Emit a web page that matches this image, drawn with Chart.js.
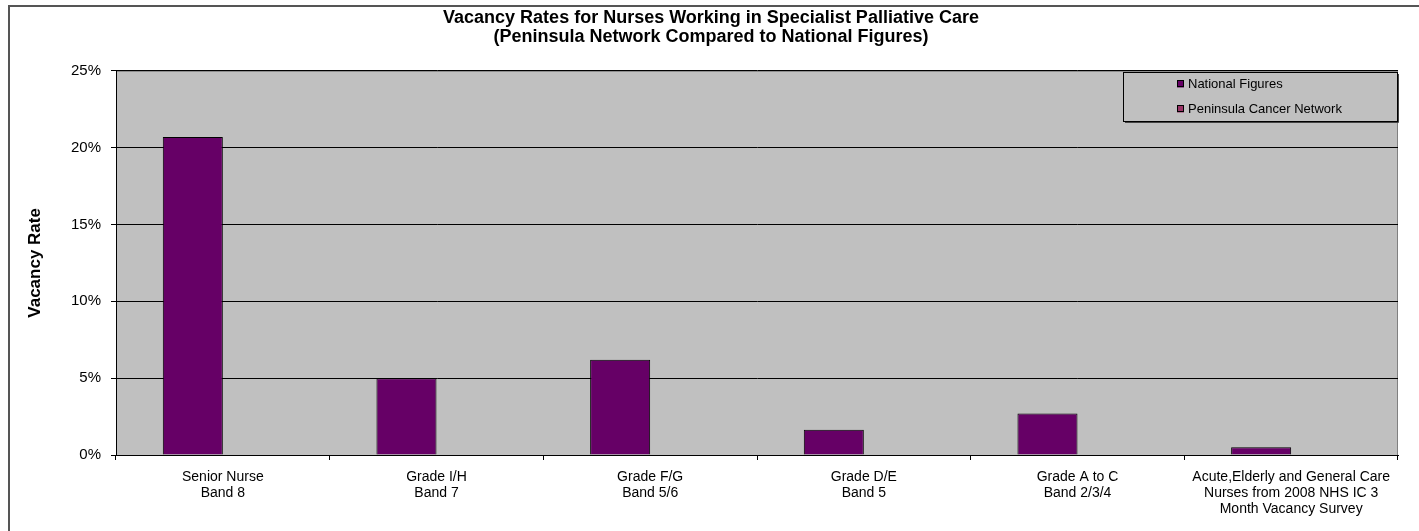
<!DOCTYPE html>
<html>
<head>
<meta charset="utf-8">
<script src="https://cdn.jsdelivr.net/npm/chart.js@4"></script>
<style>
html,body{margin:0;padding:0;background:#fff;}
#wrap{width:1419px;height:531px;position:relative;}
</style>
</head>
<body>
<div id="wrap"><canvas id="c"></canvas></div>
<script>
const categories = [
  ["Senior Nurse","Band 8"],
  ["Grade I/H","Band 7"],
  ["Grade F/G","Band 5/6"],
  ["Grade D/E","Band 5"],
  ["Grade A to C","Band 2/3/4"],
  ["Acute,Elderly and General Care","Nurses from 2008 NHS IC 3","Month Vacancy Survey"]
];
const nationalFigures = [20.7, 5.0, 6.2, 1.65, 2.7, 0.5];
const peninsulaNetwork = [null, null, null, null, null, null];
const yTicks = [0, 5, 10, 15, 20, 25];
const titleLines = ["Vacancy Rates for Nurses Working in Specialist Palliative Care","(Peninsula Network Compared to National Figures)"];

const FONT = "'Liberation Sans', Arial, sans-serif";

const bgPlugin = {
  id: 'bg',
  beforeDraw(chart) {
    const ctx = chart.ctx, a = chart.chartArea;
    ctx.save();
    ctx.fillStyle = '#fff';
    ctx.fillRect(0, 0, chart.width, chart.height);
    ctx.strokeStyle = '#555';
    ctx.lineWidth = 2;
    ctx.strokeRect(9, 6, chart.width + 20, chart.height + 20);
    ctx.fillStyle = '#C0C0C0';
    ctx.fillRect(a.left, a.top, a.right - a.left, a.bottom - a.top);
    ctx.strokeStyle = '#808080';
    ctx.lineWidth = 1;
    ctx.strokeRect(a.left + 0.5, a.top + 0.5, a.right - a.left - 1, a.bottom - a.top);
    ctx.restore();
  }
};

const legendPlugin = {
  id: 'customLegend',
  afterDraw(chart) {
    const ctx = chart.ctx, a = chart.chartArea;
    const x0 = 1123, y0 = 72, w = a.right - x0, h = 50;
    ctx.save();
    ctx.fillStyle = '#C0C0C0';
    ctx.fillRect(x0, y0, w, h);
    ctx.strokeStyle = '#000';
    ctx.lineWidth = 1;
    ctx.strokeRect(x0 + 0.5, y0 + 0.5, w - 1, h - 1);
    ctx.strokeStyle = '#444';
    ctx.beginPath();
    ctx.moveTo(x0 + w + 0.5, y0 + 2); ctx.lineTo(x0 + w + 0.5, y0 + h + 0.5);
    ctx.lineTo(x0 + 2, y0 + h + 0.5);
    ctx.stroke();
    ctx.font = '13px ' + FONT;
    ctx.textBaseline = 'middle';
    ctx.textAlign = 'left';
    chart.data.datasets.forEach((ds, i) => {
      const cy = y0 + 12 + i * 25;
      ctx.fillStyle = ds.backgroundColor;
      ctx.fillRect(1177, cy - 3.5, 7, 7);
      ctx.strokeStyle = '#000';
      ctx.strokeRect(1177.5, cy - 3.5, 6, 6);
      ctx.fillStyle = '#000';
      ctx.fillText(ds.label, 1188, cy);
    });
    ctx.restore();
  }
};

new Chart(document.getElementById('c'), {
  type: 'bar',
  data: {
    labels: categories,
    datasets: [
      { label: 'National Figures', data: nationalFigures, backgroundColor: '#660066', borderColor: '#000', borderWidth: 1 },
      { label: 'Peninsula Cancer Network', data: peninsulaNetwork, backgroundColor: '#993366', borderColor: '#000', borderWidth: 1 }
    ]
  },
  options: {
    responsive: true,
    maintainAspectRatio: false,
    animation: false,
    categoryPercentage: 0.562,
    barPercentage: 1.0,
    layout: { padding: { left: 24, right: 21, top: 0, bottom: 0 } },
    plugins: {
      legend: { display: false },
      tooltip: { enabled: false },
      title: {
        display: true,
        text: titleLines,
        color: '#000',
        font: { family: FONT, size: 18, weight: 'bold', lineHeight: 1.05 },
        padding: { top: 9, bottom: 24 }
      }
    },
    scales: {
      x: {
        grid: { display: true, drawOnChartArea: false, drawTicks: true, tickLength: 5, tickColor: '#000', offset: true },
        border: { display: true, color: '#000' },
        ticks: { color: '#000', font: { family: FONT, size: 14, lineHeight: 1.15 }, padding: 9, maxRotation: 0, autoSkip: false },
        afterFit(scale) { scale.height = 76; }
      },
      y: {
        min: 0, max: 25,
        afterBuildTicks(scale) { scale.ticks = yTicks.map(v => ({ value: v })); },
        grid: { color: '#000', tickColor: '#000', tickLength: 5, drawTicks: true },
        border: { display: true, color: '#000' },
        ticks: { color: '#000', font: { family: FONT, size: 15 }, padding: 10, callback: v => v + '%' },
        title: { display: true, text: 'Vacancy Rate', color: '#000', font: { family: FONT, size: 17, weight: 'bold' }, padding: { top: 1, bottom: 0 } },
        afterFit(scale) { scale.width = 92; }
      }
    }
  },
  plugins: [bgPlugin, legendPlugin]
});
</script>
</body>
</html>
